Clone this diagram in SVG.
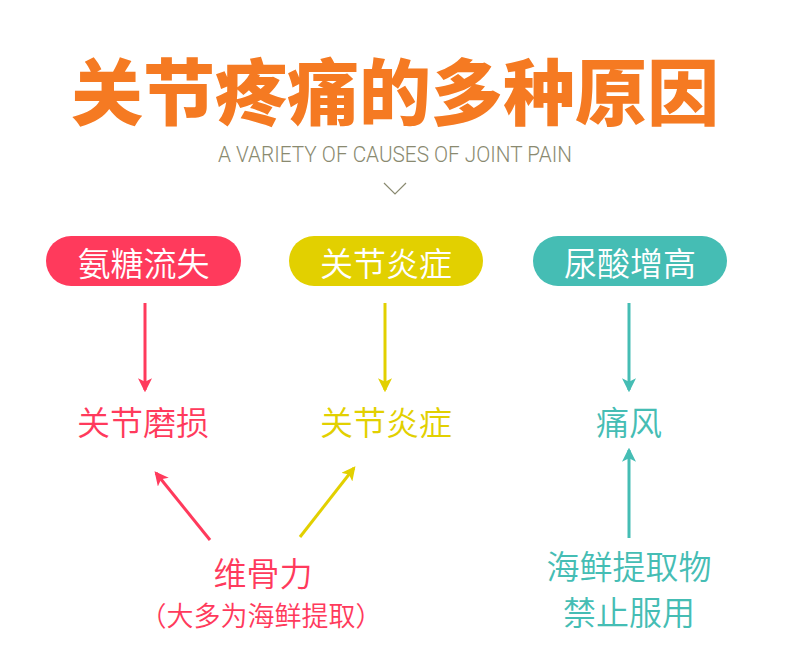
<svg xmlns="http://www.w3.org/2000/svg" width="790" height="660" viewBox="0 0 790 660">
<style>
.cjk{font-family:"Noto Sans CJK SC","Noto Sans",sans-serif;text-anchor:middle;font-weight:350}
.pill-t{font-size:33px;fill:#fff}
.lbl{font-size:33px}
.red{fill:#ff3a5c}.yel{fill:#e2d000}.teal{fill:#45bdb4}
.ln{fill:none;stroke-width:3}
</style>
<defs>
<marker id="mr" viewBox="0 0 12 12" refX="10" refY="6" markerWidth="14" markerHeight="14" markerUnits="userSpaceOnUse" orient="auto"><path d="M0,0 L12,6 L0,12 L3,6 z" fill="#ff3a5c"/></marker>
<marker id="my" viewBox="0 0 12 12" refX="10" refY="6" markerWidth="14" markerHeight="14" markerUnits="userSpaceOnUse" orient="auto"><path d="M0,0 L12,6 L0,12 L3,6 z" fill="#e2d000"/></marker>
<marker id="mt" viewBox="0 0 12 12" refX="10" refY="6" markerWidth="14" markerHeight="14" markerUnits="userSpaceOnUse" orient="auto"><path d="M0,0 L12,6 L0,12 L3,6 z" fill="#45bdb4"/></marker>
</defs>
<rect width="790" height="660" fill="#fff"/>
<g id="title">
<text x="395" y="119" font-family="Noto Sans CJK SC,sans-serif" text-anchor="middle" font-size="72" font-weight="900" fill="#f57a22">关节疼痛的多种原因</text>
<text x="395" y="162" font-family="Roboto,sans-serif" font-weight="300" font-size="22" fill="#8a8a70" text-anchor="middle" textLength="354" lengthAdjust="spacingAndGlyphs">A VARIETY OF CAUSES OF JOINT PAIN</text>
<path d="M384,183 L395,194 L406,183" fill="none" stroke="#8a8a70" stroke-width="1.2"/>
</g>
<g id="n1"><rect x="46" y="236" width="195" height="50" rx="25" fill="#ff3a5c"/><text class="cjk pill-t" x="143.5" y="276">氨糖流失</text></g>
<g id="n2"><rect x="289" y="236" width="194" height="50" rx="25" fill="#e2d000"/><text class="cjk pill-t" x="386" y="276">关节炎症</text></g>
<g id="n3"><rect x="533" y="236" width="194" height="50" rx="25" fill="#45bdb4"/><text class="cjk pill-t" x="630" y="276">尿酸增高</text></g>
<g id="n4"><text class="cjk lbl red" x="143" y="435">关节磨损</text></g>
<g id="n5"><text class="cjk lbl yel" x="386" y="435">关节炎症</text></g>
<g id="n6"><text class="cjk lbl teal" x="629" y="435">痛风</text></g>
<g id="n7"><text class="cjk lbl red" x="263" y="586">维骨力</text><text class="cjk red" x="261" y="626" font-size="27">（大多为海鲜提取）</text></g>
<g id="n8"><text class="cjk lbl teal" x="629" y="579">海鲜提取物</text><text class="cjk lbl teal" x="629" y="625">禁止服用</text></g>
<g id="connectors">
<line class="ln" x1="145" y1="303" x2="145" y2="390" stroke="#ff3a5c" marker-end="url(#mr)"/>
<line class="ln" x1="385" y1="303" x2="385" y2="390" stroke="#e2d000" marker-end="url(#my)"/>
<line class="ln" x1="629" y1="303" x2="629" y2="390" stroke="#45bdb4" marker-end="url(#mt)"/>
<line class="ln" x1="210" y1="540" x2="156" y2="473" stroke="#ff3a5c" marker-end="url(#mr)"/>
<line class="ln" x1="300" y1="537" x2="354" y2="468" stroke="#e2d000" marker-end="url(#my)"/>
<line class="ln" x1="629" y1="538" x2="629" y2="450" stroke="#45bdb4" marker-end="url(#mt)"/>
</g>
</svg>
